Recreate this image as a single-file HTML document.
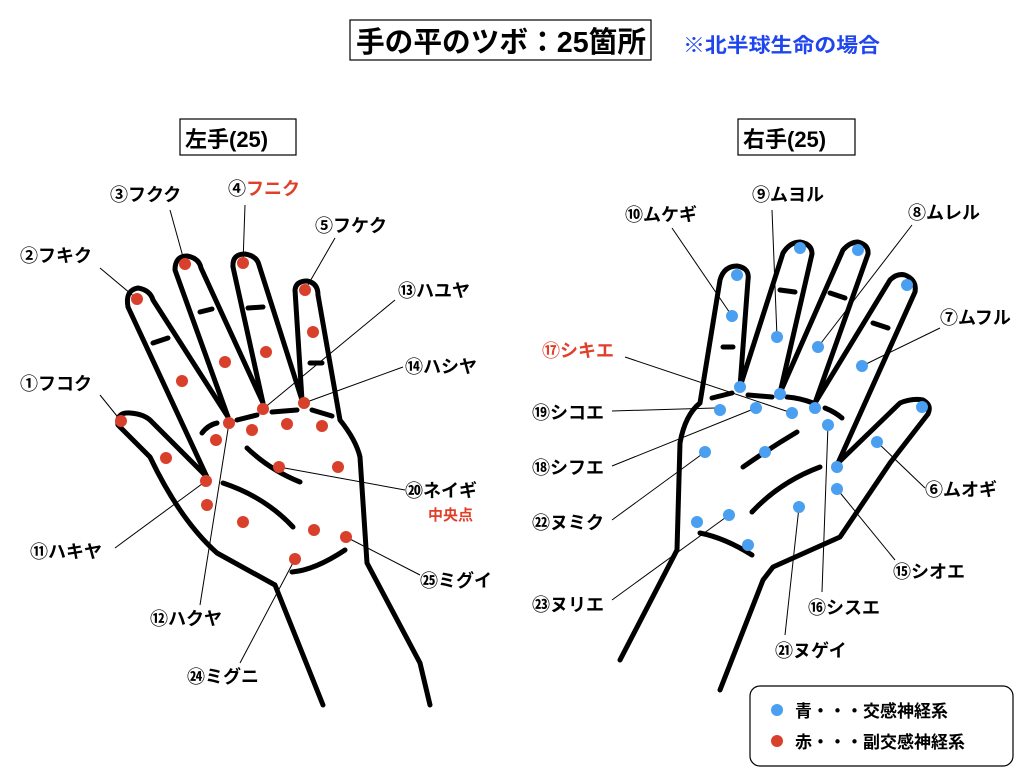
<!DOCTYPE html>
<html><head><meta charset="utf-8"><style>
html,body{margin:0;padding:0;background:#fff;}
svg{display:block;}
text{font-family:"Liberation Sans","Noto Sans CJK JP",sans-serif;font-weight:bold;}
</style></head><body>
<svg width="1024" height="768" viewBox="0 0 1024 768" xmlns="http://www.w3.org/2000/svg">
<rect x="350" y="20" width="301" height="40" fill="#fff" stroke="#000" stroke-width="1.2"/>
<text x="356" y="52" font-size="29" fill="#000" textLength="290" lengthAdjust="spacingAndGlyphs">手の平のツボ：25箇所</text>
<text x="683" y="52" font-size="20" fill="#1f45ee" textLength="197" lengthAdjust="spacingAndGlyphs">※北半球生命の場合</text>
<rect x="180" y="119" width="116" height="36" fill="#fff" stroke="#000" stroke-width="1.2"/>
<text x="185" y="147" font-size="22">左手(25)</text>
<rect x="738" y="119" width="117" height="36" fill="#fff" stroke="#000" stroke-width="1.2"/>
<text x="743" y="147" font-size="22">右手(25)</text>

<g fill="none" stroke="#000" stroke-width="5" stroke-linecap="round" stroke-linejoin="round">
<path d="M323,705 L275,585 L217,553 Q180,520 150,457 L118,425 Q116,412 130,413 Q145,414 152,422 L207,477 L128,307 Q125,290 138,288 Q150,290 153,300 L228,417 L175,270 Q175,256 187,256 Q199,258 201,268 L263,403 L233,267 Q232,254 245,254 Q257,256 259,265 L302,400 L295,290 Q296,281 307,281 Q318,283 318,295 L340,420 Q356,440 360,457 L367,563 L420,663 L430,705"/>
<path d="M153,343 L168,338 M200,312 L212,309 M248,308 L263,307 M310,363 L322,363"/>
<path d="M202,433 Q208,425 217,423 M237,420 L257,415 M272,412 L297,410 M312,410 L332,416"/>
<path d="M247,448 Q270,470 300,482 M223,483 Q265,497 293,527 M292,572 Q315,570 345,550"/>
<path d="M620,660 L677,550 L680,443 Q685,415 700,403 L720,280 Q724,266 737,266 Q750,268 748,280 L740,387 L783,253 Q790,242 800,242 Q812,244 812,254 L780,393 L843,250 Q850,242 858,242 Q869,245 868,254 L815,403 L890,280 Q897,273 905,275 Q917,280 915,292 L838,463 L900,403 Q912,398 923,400 Q932,405 928,414 L890,463 L840,537 L773,567 L763,580 L720,690"/>
<path d="M723,347 L733,347 M780,290 L795,292 M830,293 L845,298 M873,323 L888,328"/>
<path d="M712,398 L732,393 M748,395 L772,397 M787,397 Q800,398 813,403 M825,408 Q835,412 842,418"/>
<path d="M743,467 Q770,448 797,432 M752,512 Q780,482 820,467 M700,533 Q725,538 752,555"/>
</g>

<g stroke="#000" stroke-width="1">
<line x1="170" y1="210" x2="185" y2="264"/><line x1="245" y1="205" x2="243" y2="263"/><line x1="335" y1="238" x2="305" y2="290"/>
<line x1="100" y1="268" x2="137" y2="299"/><line x1="395" y1="300" x2="263" y2="409"/><line x1="403" y1="367" x2="304" y2="403"/>
<line x1="100" y1="395" x2="121" y2="421"/><line x1="405" y1="490" x2="279" y2="467"/><line x1="115" y1="548" x2="206" y2="481"/>
<line x1="420" y1="575" x2="346" y2="537"/><line x1="200" y1="605" x2="229" y2="423"/><line x1="240" y1="663" x2="295" y2="559"/>
<line x1="672" y1="228" x2="732" y2="316"/><line x1="772" y1="210" x2="777" y2="337"/><line x1="912" y1="225" x2="818" y2="347"/>
<line x1="940" y1="328" x2="862" y2="366"/><line x1="625" y1="357" x2="792" y2="413"/><line x1="612" y1="411" x2="715" y2="408"/>
<line x1="612" y1="466" x2="756" y2="408"/><line x1="612" y1="520" x2="705" y2="452"/><line x1="925" y1="488" x2="877" y2="442"/>
<line x1="895" y1="560" x2="837" y2="489"/><line x1="612" y1="600" x2="729" y2="515"/><line x1="822" y1="592" x2="828" y2="425"/>
<line x1="785" y1="635" x2="799" y2="507"/>
</g>

<g fill="#d9402b">
<circle cx="121" cy="421" r="6"/><circle cx="137" cy="299" r="6"/><circle cx="185" cy="264" r="6"/><circle cx="243" cy="263" r="6"/><circle cx="305" cy="290" r="6"/>
<circle cx="313" cy="332" r="6"/><circle cx="266" cy="352" r="6"/><circle cx="225" cy="362" r="6"/><circle cx="182" cy="381" r="6"/><circle cx="166" cy="458" r="6"/>
<circle cx="206" cy="481" r="6"/><circle cx="207" cy="505" r="6"/><circle cx="229" cy="423" r="6"/><circle cx="263" cy="409" r="6"/><circle cx="304" cy="403" r="6"/>
<circle cx="216" cy="440" r="6"/><circle cx="252" cy="430" r="6"/><circle cx="287" cy="424" r="6"/><circle cx="322" cy="426" r="6"/><circle cx="279" cy="467" r="6"/>
<circle cx="338" cy="467" r="6"/><circle cx="243" cy="522" r="6"/><circle cx="314" cy="530" r="6"/><circle cx="346" cy="537" r="6"/><circle cx="295" cy="559" r="6"/>
</g>
<g fill="#4a9ff0">
<circle cx="737" cy="275" r="6"/><circle cx="732" cy="316" r="6"/><circle cx="777" cy="337" r="6"/><circle cx="818" cy="347" r="6"/><circle cx="862" cy="366" r="6"/>
<circle cx="800" cy="248" r="6"/><circle cx="858" cy="250" r="6"/><circle cx="907" cy="285" r="6"/><circle cx="922" cy="407" r="6"/><circle cx="877" cy="442" r="6"/>
<circle cx="740" cy="387" r="6"/><circle cx="780" cy="394" r="6"/><circle cx="815" cy="408" r="6"/><circle cx="720" cy="410" r="6"/><circle cx="756" cy="408" r="6"/>
<circle cx="792" cy="413" r="6"/><circle cx="828" cy="425" r="6"/><circle cx="705" cy="452" r="6"/><circle cx="765" cy="452" r="6"/><circle cx="837" cy="467" r="6"/>
<circle cx="837" cy="489" r="6"/><circle cx="799" cy="507" r="6"/><circle cx="697" cy="522" r="6"/><circle cx="729" cy="515" r="6"/><circle cx="748" cy="545" r="6"/>
</g>

<g font-size="18" fill="#000">
<text x="110" y="201">③フクク</text>
<text x="228" y="195">④<tspan fill="#e0402a">フニク</tspan></text>
<text x="315" y="232">⑤フケク</text>
<text x="20" y="262">②フキク</text>
<text x="398" y="297">⑬ハユヤ</text>
<text x="405" y="373">⑭ハシヤ</text>
<text x="20" y="390">①フコク</text>
<text x="405" y="497">⑳ネイギ</text>
<text x="428" y="520" font-size="15" fill="#e0402a">中央点</text>
<text x="30" y="558">⑪ハキヤ</text>
<text x="420" y="587">㉕ミグイ</text>
<text x="150" y="625">⑫ハクヤ</text>
<text x="187" y="683">㉔ミグニ</text>
<text x="625" y="221">⑩ムケギ</text>
<text x="752" y="201">⑨ムヨル</text>
<text x="908" y="219">⑧ムレル</text>
<text x="940" y="324">⑦ムフル</text>
<text x="542" y="357" fill="#e0402a">⑰シキエ</text>
<text x="532" y="419">⑲シコエ</text>
<text x="532" y="474">⑱シフエ</text>
<text x="532" y="529">㉒ヌミク</text>
<text x="925" y="496">⑥ムオギ</text>
<text x="893" y="578">⑮シオエ</text>
<text x="532" y="611">㉓ヌリエ</text>
<text x="808" y="614">⑯シスエ</text>
<text x="775" y="657">㉑ヌゲイ</text>
</g>

<rect x="750" y="686" width="263" height="80" rx="10" fill="#fff" stroke="#000" stroke-width="1.2"/>
<circle cx="777" cy="710" r="6" fill="#4a9ff0"/>
<circle cx="777" cy="741" r="6" fill="#d9402b"/>
<text x="795" y="717" font-size="17">青・・・交感神経系</text>
<text x="795" y="748" font-size="17">赤・・・副交感神経系</text>
</svg>
</body></html>
